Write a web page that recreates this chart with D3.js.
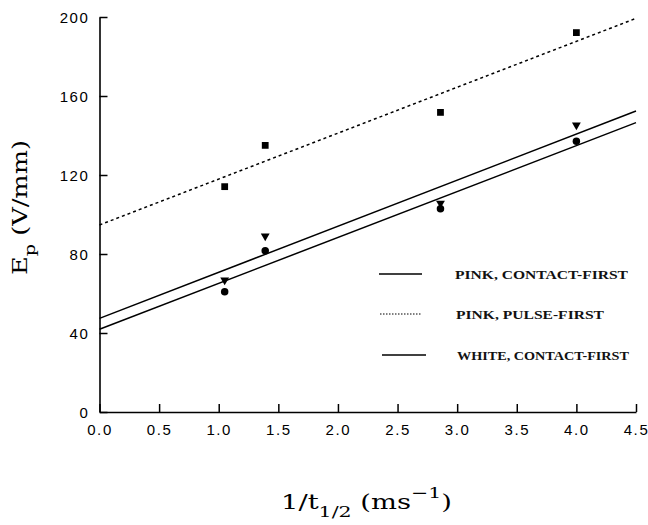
<!DOCTYPE html>
<html>
<head>
<meta charset="utf-8">
<script src="https://cdn.jsdelivr.net/npm/d3@7"></script>
<style>
  html, body { margin: 0; padding: 0; background: #fff; }
  svg { display: block; }
</style>
</head>
<body>
<svg id="chart" width="648" height="525"></svg>
<script>
// ---- data ----
const xValues = [1.05, 1.39, 2.86, 4.0];
const pinkContactFirst = [66.8, 89.1, 105.7, 145.3];   // triangles
const pinkPulseFirst = [114.1, 135.0, 151.7, 192.1];   // squares
const whiteContactFirst = [60.9, 81.7, 102.9, 137.1];  // circles
const fitIntercepts = [47.4, 94.7, 41.9];
const fitEnds = [152.4, 199.3, 146.5]; // fitted value at x = 4.5
const seriesNames = ["PINK, CONTACT-FIRST", "PINK, PULSE-FIRST", "WHITE, CONTACT-FIRST"];
const xTicks = [0.0, 0.5, 1.0, 1.5, 2.0, 2.5, 3.0, 3.5, 4.0, 4.5];
const yTicks = [0, 40, 80, 120, 160, 200];

const svg = d3.select("#chart");
const x = d3.scaleLinear().domain([0, 4.5]).range([99.5, 636]);
const y = d3.scaleLinear().domain([0, 200]).range([412, 17]);

// axes
const gx = svg.append("g").attr("transform", `translate(0,${y(0)})`)
  .call(d3.axisBottom(x).tickValues(xTicks).tickSizeInner(-8).tickSizeOuter(0).tickPadding(12)
    .tickFormat(d3.format(".1f")));
const gy = svg.append("g").attr("transform", `translate(${x(0)},0)`)
  .call(d3.axisLeft(y).tickValues(yTicks).tickSizeInner(-8).tickSizeOuter(0).tickPadding(10));
[gx, gy].forEach(g => {
  g.select(".domain").attr("stroke", "#000").attr("stroke-width", 1.6);
  g.selectAll(".tick line").attr("stroke", "#000").attr("stroke-width", 1.5);
  g.selectAll(".tick text").attr("fill", "#000")
    .attr("font-family", "'Liberation Sans', Arial, sans-serif")
    .attr("font-size", 15).attr("letter-spacing", 1.6);
});
gx.attr("font-size", 15);
gy.attr("font-size", 15);
gx.selectAll(".tick text").attr("dy", "0.71em");
gy.selectAll(".tick text").attr("dy", "0.36em");

// fitted lines
const styles = [
  { dash: null },
  { dash: "3,3" },
  { dash: null }
];
fitIntercepts.forEach((b, i) => {
  svg.append("line")
    .attr("x1", x(0)).attr("y1", y(b))
    .attr("x2", x(4.5)).attr("y2", y(fitEnds[i]))
    .attr("stroke", "#000").attr("stroke-width", 1.5)
    .attr("stroke-dasharray", styles[i].dash);
});

// markers
const sym = (type, size) => d3.symbol().type(type).size(size)();
svg.append("g").selectAll("path").data(xValues.map((d, i) => [d, pinkPulseFirst[i]]))
  .join("path").attr("d", sym(d3.symbolSquare, 46))
  .attr("transform", d => `translate(${x(d[0])},${y(d[1])})`).attr("fill", "#000");
svg.append("g").selectAll("path").data(xValues.map((d, i) => [d, pinkContactFirst[i]]))
  .join("path").attr("d", sym(d3.symbolTriangle, 34))
  .attr("transform", d => `translate(${x(d[0])},${y(d[1])}) rotate(180)`).attr("fill", "#000");
svg.append("g").selectAll("path").data(xValues.map((d, i) => [d, whiteContactFirst[i]]))
  .join("path").attr("d", sym(d3.symbolCircle, 44))
  .attr("transform", d => `translate(${x(d[0])},${y(d[1])})`).attr("fill", "#000");

// legend
const legendY = [274, 314, 355];
const legendX1 = [379, 380, 382];
const legendX2 = [422, 422, 426];
const legendTX = [455, 456, 457];
const legendW = [173, 148, 172];
seriesNames.forEach((name, i) => {
  svg.append("line")
    .attr("x1", legendX1[i]).attr("x2", legendX2[i])
    .attr("y1", legendY[i]).attr("y2", legendY[i])
    .attr("stroke", "#000").attr("stroke-width", i === 1 ? 1 : 1.3)
    .attr("stroke-dasharray", i === 1 ? "1.5,1.5" : null);
  svg.append("text")
    .attr("x", legendTX[i]).attr("y", legendY[i] + 5)
    .attr("textLength", legendW[i]).attr("lengthAdjust", "spacingAndGlyphs")
    .attr("font-family", "'Liberation Serif', 'Times New Roman', serif")
    .attr("font-size", 13.5).attr("font-weight", "bold")
    .attr("fill", "#111")
    .text(name);
});

// axis titles
const xl = svg.append("text").attr("x", 281).attr("y", 509)
  .attr("textLength", 171).attr("lengthAdjust", "spacingAndGlyphs")
  .attr("font-family", "'DejaVu Serif', 'Liberation Serif', serif").attr("font-size", 20)
  .attr("fill", "#000");
xl.append("tspan").text("1/t");
xl.append("tspan").attr("dy", 8).attr("font-size", 15).text("1/2");
xl.append("tspan").attr("dy", -8).text(" (ms");
xl.append("tspan").attr("dy", -11).attr("font-size", 15).text("−1");
xl.append("tspan").attr("dy", 11).text(")");

const yl = svg.append("text").attr("transform", "translate(27,275) rotate(-90)")
  .attr("textLength", 135).attr("lengthAdjust", "spacingAndGlyphs")
  .attr("font-family", "'DejaVu Serif', 'Liberation Serif', serif").attr("font-size", 20)
  .attr("fill", "#000");
yl.append("tspan").text("E");
yl.append("tspan").attr("dy", 8).attr("font-size", 15).text("p");
yl.append("tspan").attr("dy", -8).text(" (V/mm)");
</script>
</body>
</html>
